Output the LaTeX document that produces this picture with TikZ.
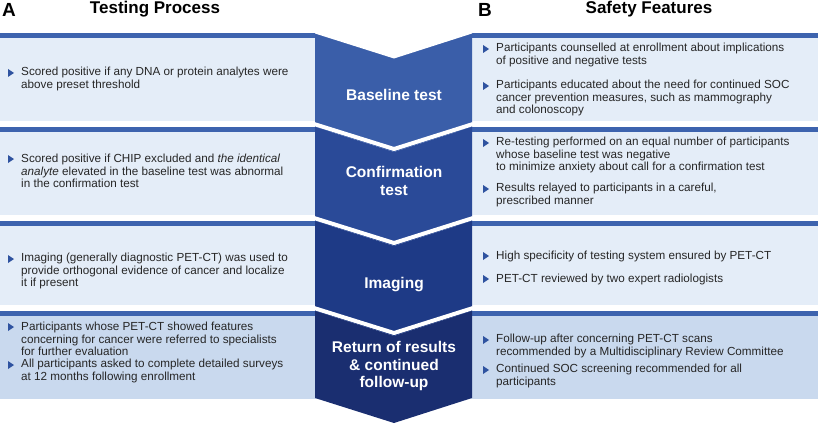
\documentclass[tikz,border=0pt]{standalone}
\usepackage{fontspec}
\setmainfont{Liberation Sans}
\begin{document}
\begin{tikzpicture}[x=1pt,y=-1pt,
  txt/.style={anchor=west,align=left,font=\fontsize{11.7}{12.5}\selectfont,text=black!85,inner sep=0pt},
  chev/.style={font=\bfseries\fontsize{15.5}{17.5}\selectfont,text=white,align=center},
  bul/.style={fill=bulletblue}]
\definecolor{lightpanel}{HTML}{E4EDF8}
\definecolor{darkpanel}{HTML}{C9D9EE}
\definecolor{barblue}{HTML}{3D63AE}
\definecolor{bulletblue}{HTML}{2F53A0}
\definecolor{cA}{HTML}{3A5EA9}\definecolor{cB}{HTML}{2A4A98}
\definecolor{cC}{HTML}{1E3A86}\definecolor{cD}{HTML}{1A2E70}
\useasboundingbox (0,0) rectangle (818,425);
\newcommand{\bu}[2]{\fill[bul] (#1,#2-4) -- (#1+6,#2) -- (#1,#2+4) -- cycle;}
% titles
\node[font=\bfseries\fontsize{19}{20}\selectfont,anchor=west,inner sep=0pt] (la) at (2,10) {A};
\node[font=\bfseries\fontsize{17}{18}\selectfont,inner sep=0pt] (ta) at (155,9) {Testing Process};
\node[font=\bfseries\fontsize{19}{20}\selectfont,anchor=west,inner sep=0pt] (lb) at (478,10) {B};
\node[font=\bfseries\fontsize{17}{18}\selectfont,inner sep=0pt] (tb) at (649,9) {Safety Features};
% rows
\foreach \t/\b/\c in {33/121/lightpanel,127/215/lightpanel,221/305/lightpanel,311/399/darkpanel}{
  \fill[\c] (0,\t) rectangle (818,\b);
  \fill[barblue] (0,\t) rectangle (818,\t+5);
}
% chevrons
\foreach \t/\b/\c in {33/127/cA,127/221/cB,221/311/cC,311/398/cD}{
  \fill[\c] (315,\t) -- (394,\t+25) -- (472,\t) -- (472,\b) -- (394,\b+25) -- (315,\b) -- cycle;
}
\fill[white] (315,33.5) -- (394,58.5) -- (472,33.5) -- (472,20) -- (315,20) -- cycle;
\foreach \t in {127,221,311}{
  \draw[white,line width=4pt,line join=miter] (314,\t-3) -- (394,\t+22) -- (473,\t-3);
}
\node[chev] (c1) at (394,95) {Baseline test};
\node[chev] (c2) at (394,181) {Confirmation\\test};
\node[chev] (c3) at (394,285) {Imaging};
\node[chev] (c4) at (394,366) {Return of results\\\& continued\\follow-up};
% left texts
\bu{8}{73}\node[txt] (l1) at (21,79) {Scored positive if any DNA or protein analytes were\\above preset threshold};
\bu{8}{159}\node[txt] (l2) at (21,171) {Scored positive if CHIP excluded and \textit{the identical}\\\textit{analyte} elevated in the baseline test was abnormal\\in the confirmation test};
\bu{8}{259}\node[txt] (l3) at (21,271) {Imaging (generally diagnostic PET-CT) was used to\\provide orthogonal evidence of cancer and localize\\it if present};
\bu{8}{327}\node[txt] (l4a) at (21,339) {Participants whose PET-CT showed features\\concerning for cancer were referred to specialists\\for further evaluation};
\bu{8}{365}\node[txt] (l4b) at (21,371) {All participants asked to complete detailed surveys\\at 12 months following enrollment};
% right texts
\bu{483}{49}\node[txt] (r1a) at (496,55) {Participants counselled at enrollment about implications\\of positive and negative tests};
\bu{483}{86}\node[txt] (r1b) at (496,98) {Participants educated about the need for continued SOC\\cancer prevention measures, such as mammography\\and colonoscopy};
\bu{483}{143}\node[txt] (r2a) at (496,155) {Re-testing performed on an equal number of participants\\whose baseline test was negative\\to minimize anxiety about call for a confirmation test};
\bu{483}{189}\node[txt] (r2b) at (496,195) {Results relayed to participants in a careful,\\prescribed manner};
\bu{483}{256}\node[txt] (r3a) at (496,256) {High specificity of testing system ensured by PET-CT};
\bu{483}{279}\node[txt] (r3b) at (496,279) {PET-CT reviewed by two expert radiologists};
\bu{483}{340}\node[txt] (r4a) at (496,346) {Follow-up after concerning PET-CT scans\\recommended by a Multidisciplinary Review Committee};
\bu{483}{370}\node[txt] (r4b) at (496,376) {Continued SOC screening recommended for all\\participants};
\end{tikzpicture}
\end{document}
